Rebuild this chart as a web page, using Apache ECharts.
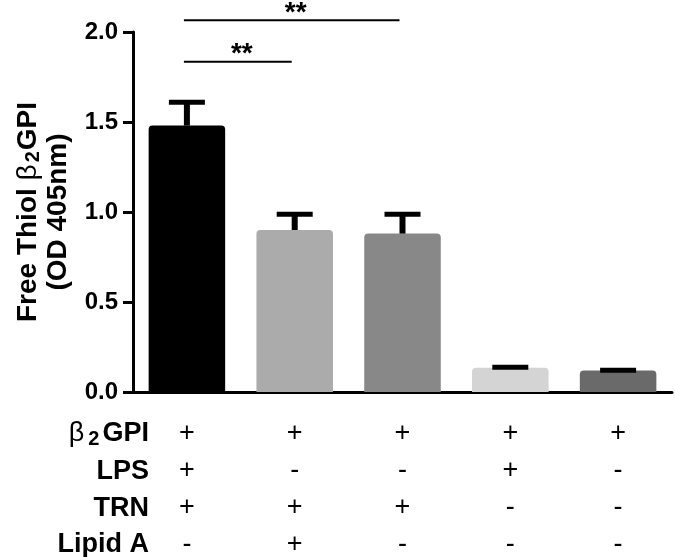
<!DOCTYPE html>
<html><head><meta charset="utf-8">
<script src="https://cdn.jsdelivr.net/npm/echarts@6/dist/echarts.min.js"></script>
<style>html,body{margin:0;padding:0;background:#fff}#c{width:675px;height:557px}</style>
</head><body><div id="c"></div>
<script>
// ---- data ----
const categories = ['G1', 'G2', 'G3', 'G4', 'G5'];
const means = [1.48, 0.90, 0.88, 0.135, 0.12];
const upper = [1.61, 0.987, 0.987, 0.137, 0.121];
const barColors = ['#000000', '#ababab', '#888888', '#d4d4d4', '#6a6a6a'];
const yMin = 0, yMax = 2.0, yInterval = 0.5;
const rowB2GPI = ['+', '+', '+', '+', '+'];
const rowLPS = ['+', '-', '-', '+', '-'];
const rowTRN = ['+', '+', '+', '-', '-'];
const rowLipidA = ['-', '+', '-', '-', '-'];
const rowNames = ['LPS', 'TRN', 'Lipid A'];
// significance: [from category, to category, height, label]
const sigFrom = [0, 0];
const sigTo = [2, 1];
const sigY = [2.065, 1.835];
const sigText = ['**', '**'];

const FONT = "'Liberation Sans', Arial, Helvetica, sans-serif";
const chart = echarts.init(document.getElementById('c'), null, {renderer: 'canvas'});

const rowY = [434, 472, 509, 545];
const graphics = [];
graphics.push({
  type: 'text', x: 149, y: rowY[0],
  style: {
    text: '{g|β}{s|2}{b|GPI}', textAlign: 'right', textVerticalAlign: 'middle',
    rich: {
      g: {fontFamily: FONT, fontSize: 27, fontWeight: 'normal', fill: '#000', lineHeight: 30},
      s: {fontFamily: FONT, fontSize: 20, fontWeight: 'bold', fill: '#000', lineHeight: 22, verticalAlign: 'bottom', padding: [0, 3, 0, 4]},
      b: {fontFamily: FONT, fontSize: 27, fontWeight: 'bold', fill: '#000', lineHeight: 30}
    }
  }
});
rowNames.forEach((n, i) => {
  graphics.push({
    type: 'text', x: 149, y: rowY[i + 1],
    style: {text: n, textAlign: 'right', textVerticalAlign: 'middle', font: 'bold 27px ' + FONT, fill: '#000'}
  });
});

const option = {
  animation: false,
  backgroundColor: '#fff',
  grid: {left: 133, right: 3, top: 32, bottom: 165, containLabel: false, outerBoundsMode: 'none'},
  xAxis: {
    type: 'category', data: categories,
    axisLine: {lineStyle: {color: '#000', width: 3}},
    axisTick: {alignWithLabel: true, length: 10, lineStyle: {color: '#000', width: 3}},
    axisLabel: {
      color: '#000', fontFamily: FONT, fontSize: 27, lineHeight: 37, margin: 23,
      formatter: (v, idx) => [rowB2GPI[idx], rowLPS[idx], rowTRN[idx], rowLipidA[idx]].join('\n')
    },
    splitLine: {show: false}
  },
  yAxis: {
    type: 'value', min: yMin, max: yMax, interval: yInterval,
    axisLine: {show: true, lineStyle: {color: '#000', width: 3}},
    axisTick: {show: true, length: 10, lineStyle: {color: '#000', width: 3}},
    axisLabel: {color: '#000', fontFamily: FONT, fontSize: 24, fontWeight: 'bold', margin: 15,
      formatter: v => v.toFixed(1)},
    splitLine: {show: false},
    name: '{b|Free Thiol }{g|β}{s|2}{b|GPI}\n{b|(OD 405nm)}',
    nameLocation: 'middle', nameGap: 60,
    nameTextStyle: {
      rich: {
        b: {fontFamily: FONT, fontSize: 28, fontWeight: 'bold', color: '#000', lineHeight: 30},
        g: {fontFamily: FONT, fontSize: 28, fontWeight: 'normal', color: '#000', lineHeight: 30},
        s: {fontFamily: FONT, fontSize: 20, fontWeight: 'bold', color: '#000', lineHeight: 22, verticalAlign: 'bottom', padding: [0, 1, 0, 2]}
      }
    }
  },
  graphic: graphics,
  series: [
    {
      type: 'bar', barWidth: '71%',
      data: means.map((v, i) => ({value: v, itemStyle: {color: barColors[i], borderRadius: [4, 4, 0, 0]}})),
      z: 1
    },
    {
      type: 'custom', z: 3,
      data: means.map((v, i) => [i, v, upper[i]]),
      encode: {x: 0, y: [1, 2]},
      renderItem: (params, api) => {
        const p0 = api.coord([api.value(0), api.value(1)]);
        const p1 = api.coord([api.value(0), api.value(2)]);
        return {type: 'group', children: [
          {type: 'rect', shape: {x: p0[0] - 3, y: p1[1], width: 6, height: Math.max(0, p0[1] - p1[1])}, style: {fill: '#000'}},
          {type: 'rect', shape: {x: p0[0] - 18, y: p1[1] - 2.5, width: 36, height: 5}, style: {fill: '#000'}}
        ]};
      }
    },
    {
      type: 'custom', z: 3, clip: false,
      data: sigFrom.map((f, i) => [f, sigTo[i], sigY[i]]),
      encode: {x: [0, 1], y: 2},
      renderItem: (params, api) => {
        const i = params.dataIndex;
        const a = api.coord([api.value(0), api.value(2)]);
        const b = api.coord([api.value(1), api.value(2)]);
        return {type: 'group', children: [
          {type: 'line', shape: {x1: a[0] - 3, y1: a[1], x2: b[0] - 3, y2: b[1]}, style: {stroke: '#000', lineWidth: 2}},
          {type: 'text', x: (a[0] + b[0]) / 2 + 1, y: a[1] + 7,
            style: {text: sigText[i], textAlign: 'center', textVerticalAlign: 'bottom', font: 'bold 28px ' + FONT, fill: '#000'}}
        ]};
      }
    }
  ]
};
chart.setOption(option);
</script></body></html>
